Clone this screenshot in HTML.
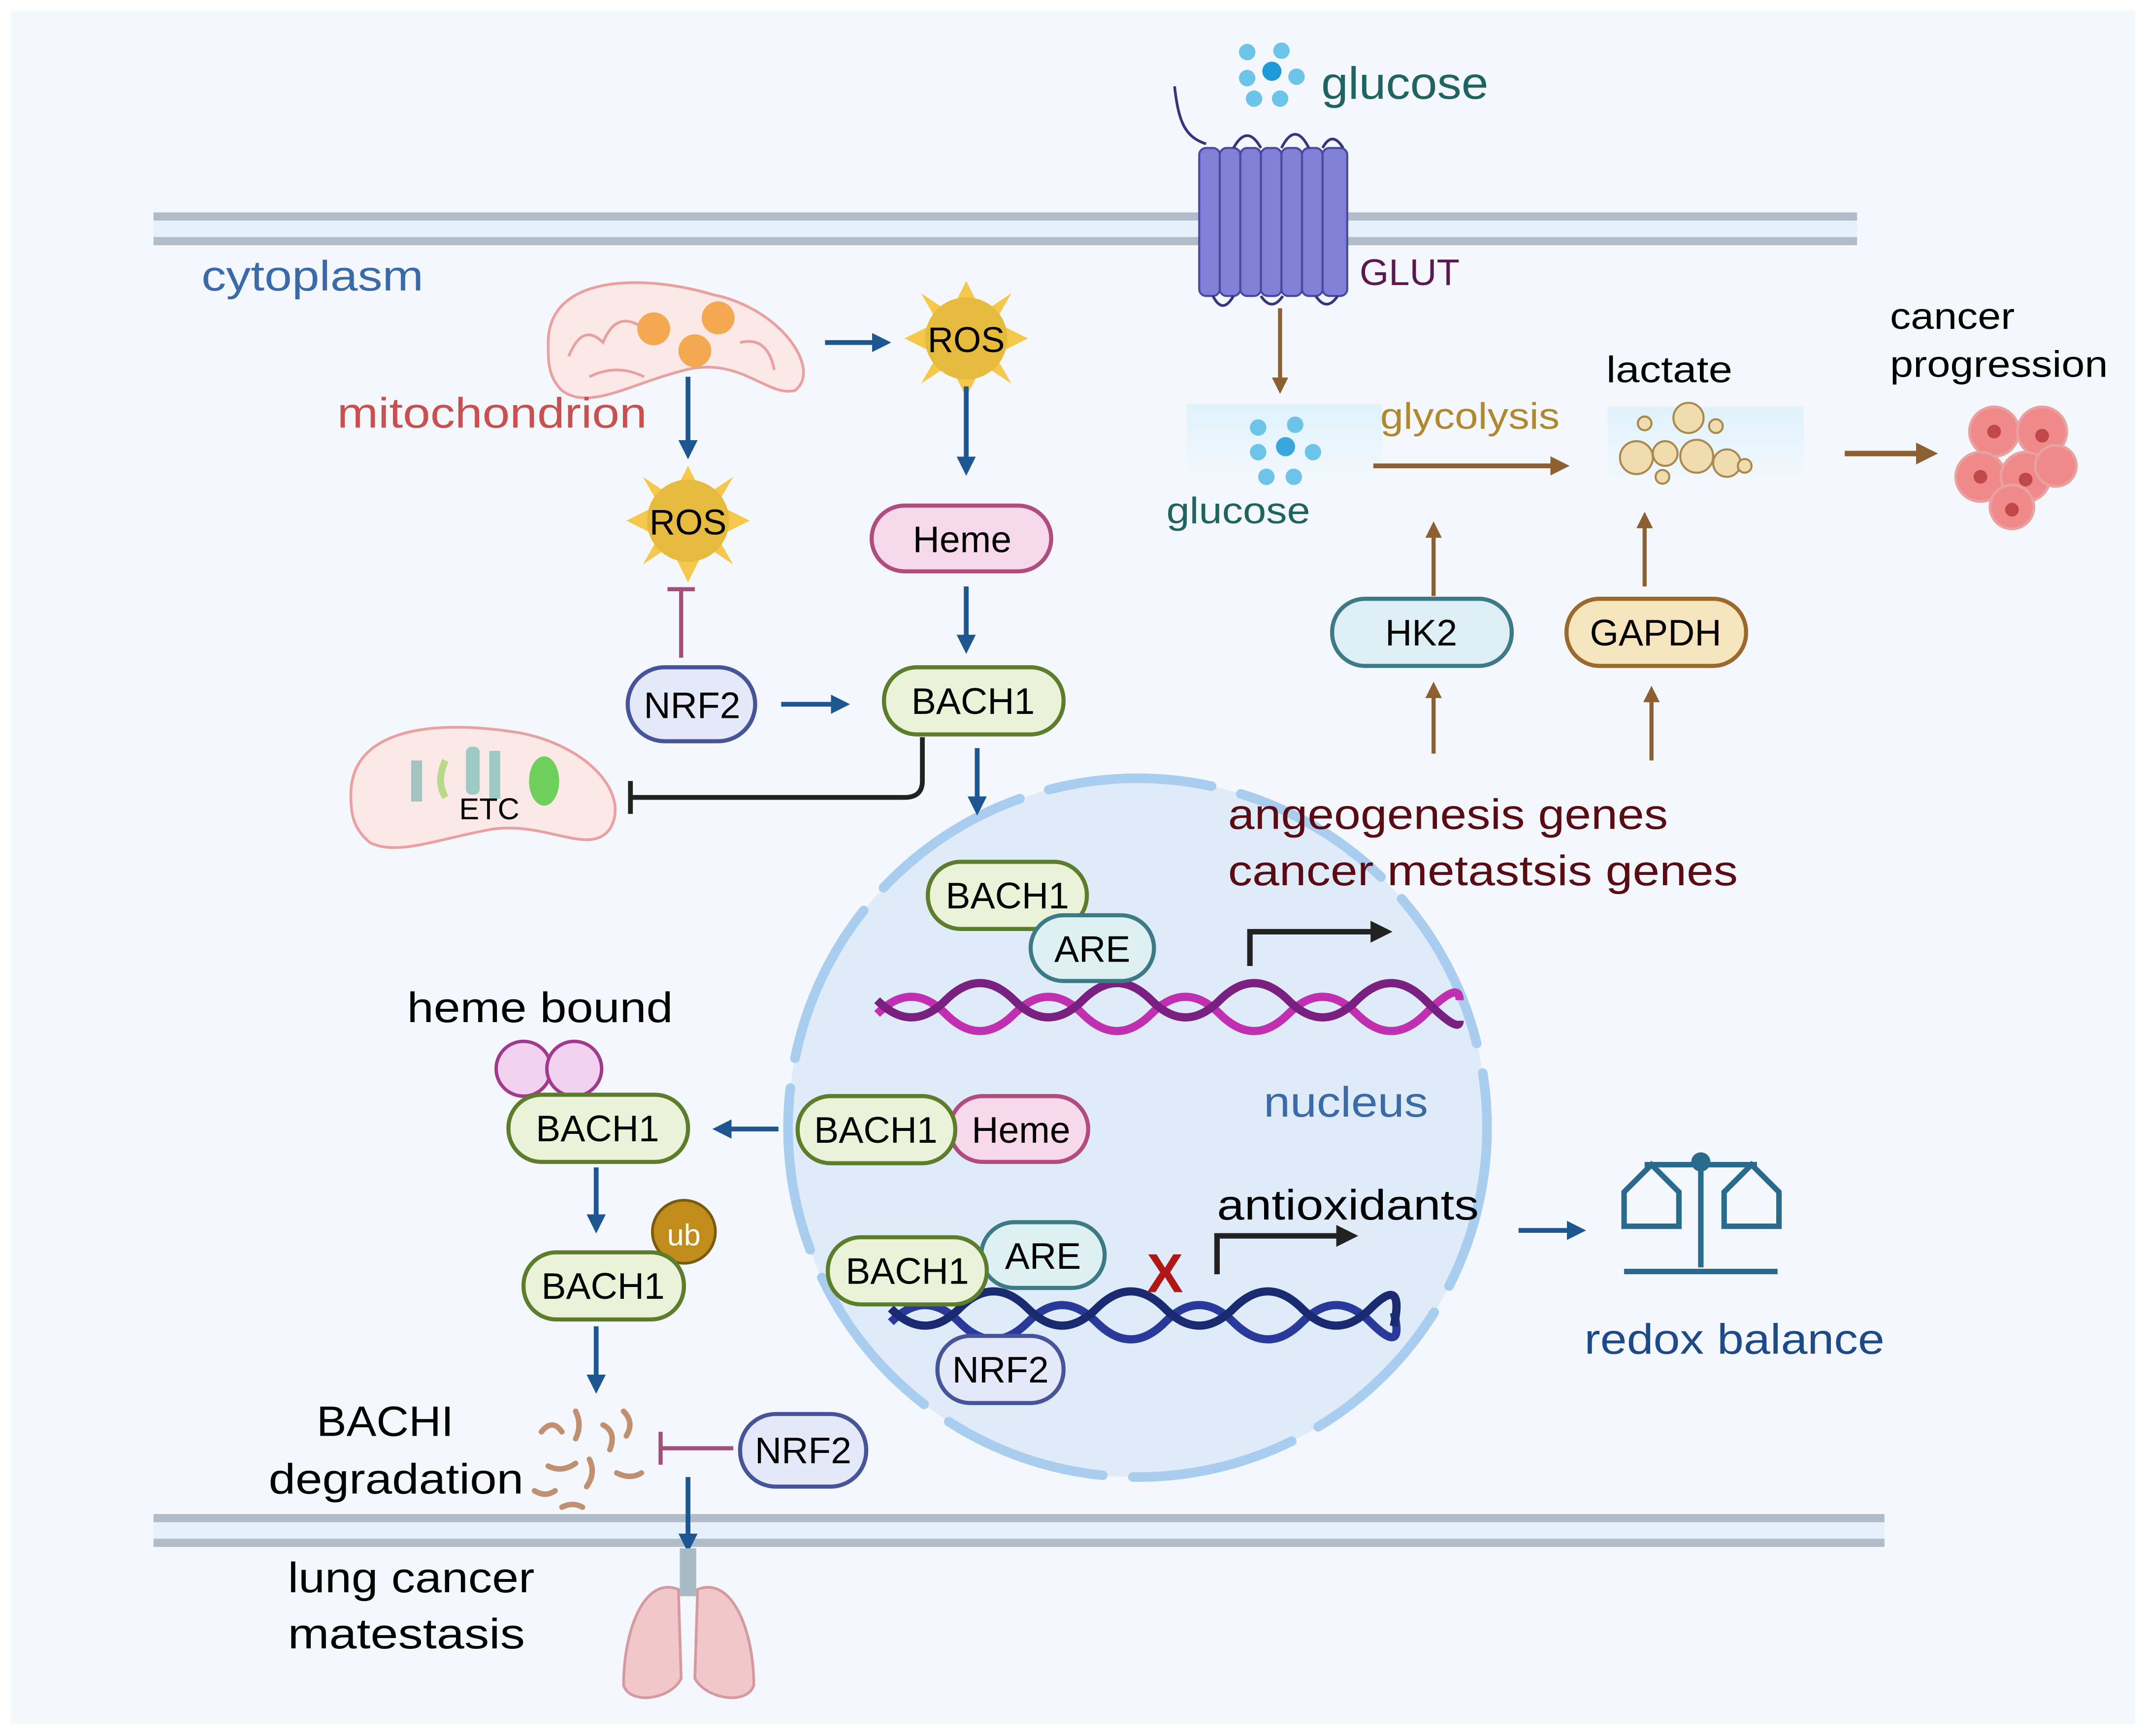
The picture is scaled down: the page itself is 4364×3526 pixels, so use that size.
<!DOCTYPE html>
<html><head><meta charset="utf-8"><style>
html,body{margin:0;padding:0;background:#fff}
svg{display:block}
text{font-family:"Liberation Sans",sans-serif}
</style></head><body>
<svg width="4364" height="3526" viewBox="0 0 1568 1267" preserveAspectRatio="none" xmlns="http://www.w3.org/2000/svg">
<defs>
<marker id="ab" markerWidth="4" markerHeight="4" refX="2.5" refY="2" orient="auto" markerUnits="strokeWidth"><path d="M0,0 L4,2 L0,4 Z" fill="#1d5690"/></marker>
<marker id="ao" markerWidth="4" markerHeight="4" refX="2.5" refY="2" orient="auto" markerUnits="strokeWidth"><path d="M0,0 L4,2 L0,4 Z" fill="#8c6030"/></marker>
<marker id="ak" markerWidth="4" markerHeight="4" refX="2.5" refY="2" orient="auto" markerUnits="strokeWidth"><path d="M0,0 L4,2 L0,4 Z" fill="#222"/></marker>
<linearGradient id="lg" x1="0" y1="0" x2="0" y2="1"><stop offset="0" stop-color="#dff2fc"/><stop offset="1" stop-color="#f3f8fc"/></linearGradient>
</defs>
<rect x="0" y="0" width="1568" height="1267" fill="#fff"/>
<rect x="8" y="8" width="1550" height="1250" fill="#f4f7fb"/>
<rect x="112" y="160" width="1243" height="15" fill="#e6f0fa"/>
<rect x="112" y="155" width="1243" height="6" fill="#aebdc9"/>
<rect x="112" y="173" width="1243" height="6" fill="#aebdc9"/>
<rect x="112" y="1110" width="1263" height="15" fill="#e6f0fa"/>
<rect x="112" y="1105" width="1263" height="6" fill="#aebdc9"/>
<rect x="112" y="1123" width="1263" height="6" fill="#aebdc9"/>
<circle cx="830" cy="823" r="255" fill="#dfebf8"/>
<circle cx="830" cy="823" r="255" fill="none" stroke="#a8cdee" stroke-width="7" stroke-dasharray="120 22" stroke-linecap="round"/>
<text x="147" y="212" font-size="31" fill="#3a6aa8" textLength="162" lengthAdjust="spacingAndGlyphs">cytoplasm</text>
<path d="M400,250 C400,200 470,200 520,215 C570,225 600,270 580,285 C560,290 540,260 500,270 C460,280 430,300 410,285 C400,275 400,265 400,250Z" fill="#fde8e8" stroke="#e8a0a0" stroke-width="2"/>
<path d="M415,260 q10,-25 25,-10 q10,-25 30,-10 M540,250 q20,-5 25,20 M430,275 q20,-10 40,0" stroke="#e8a0a0" stroke-width="2" fill="none"/>
<circle cx="477" cy="240" r="12" fill="#f4a850"/><circle cx="524" cy="232" r="12" fill="#f4a850"/><circle cx="507" cy="256" r="12" fill="#f4a850"/>
<text x="246" y="312" font-size="31" fill="#c85050" textLength="226" lengthAdjust="spacingAndGlyphs">mitochondrion</text>
<g fill="#f5c74a"><polygon points="705,205 715,225 695,225"/><polygon points="705,290 715,270 695,270"/><polygon points="660,247 680,237 680,257"/><polygon points="750,247 730,237 730,257"/><polygon points="672,214 690,226 683,233"/><polygon points="738,214 720,226 727,233"/><polygon points="672,280 690,268 683,261"/><polygon points="738,280 720,268 727,261"/></g>
<circle cx="705" cy="247" r="30" fill="#e6bb3d"/>
<text x="705" y="257" font-size="26" text-anchor="middle">ROS</text>
<g fill="#f5c74a"><polygon points="502,340 512,360 492,360"/><polygon points="502,425 512,405 492,405"/><polygon points="457,380 477,370 477,390"/><polygon points="547,380 527,370 527,390"/><polygon points="469,348 487,360 480,367"/><polygon points="535,348 517,360 524,367"/><polygon points="469,412 487,400 480,393"/><polygon points="535,412 517,400 524,393"/></g>
<circle cx="502" cy="380" r="30" fill="#e6bb3d"/>
<text x="502" y="390" font-size="26" text-anchor="middle">ROS</text>
<g stroke="#1d5690" stroke-width="3.5" fill="none" marker-end="url(#ab)">
<line x1="602" y1="250" x2="645" y2="250"/>
<line x1="502" y1="275" x2="502" y2="330"/>
<line x1="705" y1="282" x2="705" y2="342"/>
<line x1="705" y1="428" x2="705" y2="472"/>
<line x1="570" y1="514" x2="615" y2="514"/>
<line x1="713" y1="546" x2="713" y2="590"/>
<line x1="568" y1="824" x2="525" y2="824"/>
<line x1="435" y1="852" x2="435" y2="895"/>
<line x1="435" y1="968" x2="435" y2="1012"/>
<line x1="502" y1="1078" x2="502" y2="1128"/>
<line x1="1108" y1="898" x2="1152" y2="898"/>
</g>
<line x1="497" y1="430" x2="497" y2="480" stroke="#a0507a" stroke-width="3"/>
<line x1="487" y1="430" x2="507" y2="430" stroke="#a0507a" stroke-width="3"/>
<path d="M673,538 L673,570 Q673,582 660,582 L460,582" stroke="#222" stroke-width="3.5" fill="none"/>
<line x1="460" y1="570" x2="460" y2="594" stroke="#222" stroke-width="3.5"/>
<line x1="535" y1="1057" x2="482" y2="1057" stroke="#a0507a" stroke-width="3"/>
<line x1="482" y1="1045" x2="482" y2="1069" stroke="#a0507a" stroke-width="3"/>
<rect x="636" y="369" width="131" height="48" rx="24" fill="#f8d9ec" stroke="#b04c80" stroke-width="3"/>
<text x="702" y="403" font-size="27" text-anchor="middle">Heme</text>
<rect x="458" y="487" width="93" height="54" rx="27" fill="#e5e8f8" stroke="#46549a" stroke-width="3"/>
<text x="505" y="524" font-size="27" text-anchor="middle">NRF2</text>
<rect x="645" y="487" width="131" height="49" rx="24" fill="#eaf3d8" stroke="#5c7e2c" stroke-width="3"/>
<text x="710" y="521" font-size="27" text-anchor="middle">BACH1</text>
<path d="M256,580 C256,530 320,525 380,535 C430,545 460,580 445,605 C430,625 400,600 360,605 C320,612 290,625 270,615 C258,605 256,595 256,580Z" fill="#fde8e8" stroke="#e8a0a0" stroke-width="2"/>
<rect x="300" y="555" width="8" height="30" fill="#a5c4c0"/><path d="M325,555 Q318,570 325,582" stroke="#b8d88a" stroke-width="5" fill="none"/>
<rect x="340" y="545" width="10" height="35" rx="4" fill="#9ccac4"/><rect x="357" y="548" width="8" height="35" fill="#9ccac4"/>
<ellipse cx="397" cy="570" rx="11" ry="18" fill="#6ed05a"/>
<text x="357" y="598" font-size="22" text-anchor="middle">ETC</text>
<g fill="#8080d8" stroke="#4a48a0" stroke-width="1.5">
<rect x="875" y="108" width="15" height="108" rx="5"/><rect x="890" y="108" width="15" height="108" rx="5"/><rect x="905" y="108" width="15" height="108" rx="5"/><rect x="920" y="108" width="15" height="108" rx="5"/><rect x="935" y="108" width="15" height="108" rx="5"/><rect x="950" y="108" width="15" height="108" rx="5"/><rect x="965" y="108" width="18" height="108" rx="5"/>
</g>
<path d="M857,63 C860,90 865,100 880,105 M900,108 Q910,90 920,108 M935,108 Q945,88 955,108 M965,108 Q972,95 980,108 M885,216 Q892,230 900,216 M920,216 Q928,228 936,216 M960,216 Q968,228 976,216" stroke="#3a3480" stroke-width="2" fill="none"/>
<text x="992" y="208" font-size="27" fill="#5c1850" textLength="73" lengthAdjust="spacingAndGlyphs">GLUT</text>
<g fill="#6cc4e8"><circle cx="910" cy="38" r="6"/><circle cx="935" cy="37" r="6"/><circle cx="910" cy="57" r="6"/><circle cx="928" cy="52" r="7" fill="#1e9ad6"/><circle cx="946" cy="56" r="6"/><circle cx="915" cy="72" r="6"/><circle cx="934" cy="72" r="6"/></g>
<text x="964" y="72" font-size="33" fill="#1e6460" textLength="122" lengthAdjust="spacingAndGlyphs">glucose</text>
<line x1="934" y1="225" x2="934" y2="283" stroke="#8c6030" stroke-width="3" marker-end="url(#ao)"/>
<rect x="866" y="295" width="142" height="55" fill="url(#lg)"/>
<g fill="#6cc4e8"><circle cx="918" cy="312" r="6"/><circle cx="945" cy="310" r="6"/><circle cx="918" cy="330" r="6"/><circle cx="938" cy="326" r="7" fill="#3aa8dc"/><circle cx="958" cy="330" r="6"/><circle cx="924" cy="348" r="6"/><circle cx="944" cy="348" r="6"/></g>
<text x="851" y="382" font-size="27" fill="#1e6460" textLength="105" lengthAdjust="spacingAndGlyphs">glucose</text>
<text x="1007" y="313" font-size="27" fill="#b08830" textLength="131" lengthAdjust="spacingAndGlyphs">glycolysis</text>
<line x1="1002" y1="340" x2="1140" y2="340" stroke="#8c6030" stroke-width="3.5" marker-end="url(#ao)"/>
<rect x="1173" y="297" width="143" height="55" fill="url(#lg)"/>
<g fill="#f0dcae" stroke="#a88a50" stroke-width="1.5"><circle cx="1200" cy="309" r="5"/><circle cx="1232" cy="305" r="11"/><circle cx="1252" cy="311" r="5"/><circle cx="1194" cy="334" r="12"/><circle cx="1215" cy="331" r="9"/><circle cx="1238" cy="333" r="12"/><circle cx="1260" cy="338" r="10"/><circle cx="1273" cy="340" r="5"/><circle cx="1213" cy="348" r="5"/></g>
<text x="1172" y="279" font-size="27" textLength="92" lengthAdjust="spacingAndGlyphs">lactate</text>
<text x="1379" y="240" font-size="27" textLength="91" lengthAdjust="spacingAndGlyphs">cancer</text>
<text x="1379" y="275" font-size="27" textLength="159" lengthAdjust="spacingAndGlyphs">progression</text>
<line x1="1346" y1="331" x2="1408" y2="331" stroke="#8c6030" stroke-width="4" marker-end="url(#ao)"/>
<g fill="#f08a8a" stroke="#e9a0a0" stroke-width="2"><circle cx="1455" cy="315" r="18"/><circle cx="1490" cy="315" r="18"/><circle cx="1445" cy="348" r="18"/><circle cx="1478" cy="348" r="18"/><circle cx="1500" cy="340" r="15"/><circle cx="1468" cy="370" r="16"/></g>
<g fill="#c04848"><circle cx="1455" cy="315" r="5"/><circle cx="1490" cy="318" r="5"/><circle cx="1445" cy="348" r="5"/><circle cx="1478" cy="350" r="5"/><circle cx="1468" cy="372" r="5"/></g>
<g stroke="#8c6030" stroke-width="3" marker-end="url(#ao)">
<line x1="1046" y1="435" x2="1046" y2="385"/>
<line x1="1046" y1="550" x2="1046" y2="502"/>
<line x1="1200" y1="428" x2="1200" y2="378"/>
<line x1="1205" y1="555" x2="1205" y2="505"/>
</g>
<rect x="972" y="437" width="131" height="49" rx="24" fill="#ddeff4" stroke="#3c7a86" stroke-width="3"/>
<text x="1037" y="471" font-size="27" text-anchor="middle">HK2</text>
<rect x="1143" y="437" width="131" height="49" rx="24" fill="#f5e4bc" stroke="#9a6a2c" stroke-width="3"/>
<text x="1208" y="471" font-size="27" text-anchor="middle">GAPDH</text>
<text x="896" y="605" font-size="31" fill="#5a0c14" textLength="321" lengthAdjust="spacingAndGlyphs">angeogenesis genes</text>
<text x="896" y="646" font-size="31" fill="#5a0c14" textLength="372" lengthAdjust="spacingAndGlyphs">cancer metastsis genes</text>
<path d="M640,740 Q665,715 690,740 T740,740 T790,740 T840,740 T890,740 T940,740 T990,740 T1040,740 T1065,730" stroke="#c030b0" stroke-width="6" fill="none"/>
<path d="M640,730 Q665,755 690,730 T740,730 T790,730 T840,730 T890,730 T940,730 T990,730 T1040,730 T1065,745" stroke="#7a2080" stroke-width="6" fill="none"/>
<path d="M912,705 L912,680 L1010,680" stroke="#222" stroke-width="4" fill="none" marker-end="url(#ak)"/>
<rect x="677" y="629" width="116" height="49" rx="24" fill="#eaf3d8" stroke="#5c7e2c" stroke-width="3"/>
<text x="735" y="663" font-size="27" text-anchor="middle">BACH1</text>
<rect x="752" y="668" width="90" height="48" rx="24" fill="#ddf0f2" stroke="#3c7a86" stroke-width="3"/>
<text x="797" y="702" font-size="27" text-anchor="middle">ARE</text>
<text x="922" y="815" font-size="31" fill="#3a6aa8" textLength="120" lengthAdjust="spacingAndGlyphs">nucleus</text>
<text x="297" y="746" font-size="31" textLength="194" lengthAdjust="spacingAndGlyphs">heme bound</text>
<circle cx="382" cy="780" r="20" fill="#f2d0f0" stroke="#a03a8c" stroke-width="2.5"/>
<circle cx="419" cy="780" r="20" fill="#f2d0f0" stroke="#a03a8c" stroke-width="2.5"/>
<rect x="371" y="799" width="131" height="49" rx="24" fill="#eaf3d8" stroke="#5c7e2c" stroke-width="3"/>
<text x="436" y="833" font-size="27" text-anchor="middle">BACH1</text>
<rect x="693" y="800" width="101" height="48" rx="24" fill="#f8d9ec" stroke="#b04c80" stroke-width="3"/>
<text x="745" y="834" font-size="27" text-anchor="middle">Heme</text>
<rect x="582" y="800" width="115" height="49" rx="24" fill="#eaf3d8" stroke="#5c7e2c" stroke-width="3"/>
<text x="639" y="834" font-size="27" text-anchor="middle">BACH1</text>
<circle cx="499" cy="899" r="23" fill="#c08c1c" stroke="#7a5a10" stroke-width="2"/>
<text x="499" y="909" font-size="22" fill="#fff" text-anchor="middle">ub</text>
<rect x="382" y="914" width="117" height="49" rx="24" fill="#eaf3d8" stroke="#5c7e2c" stroke-width="3"/>
<text x="440" y="948" font-size="27" text-anchor="middle">BACH1</text>
<text x="231" y="1048" font-size="31" textLength="100" lengthAdjust="spacingAndGlyphs">BACHI</text>
<text x="196" y="1090" font-size="31" textLength="186" lengthAdjust="spacingAndGlyphs">degradation</text>
<g stroke="#c09070" stroke-width="4" fill="none" stroke-linecap="round"><path d="M395,1045 q8,-10 15,0"/><path d="M420,1030 q5,10 0,20"/><path d="M440,1040 q10,5 5,18"/><path d="M455,1030 q8,8 2,18"/><path d="M400,1070 q10,5 20,-2"/><path d="M430,1065 q5,10 -2,20"/><path d="M450,1075 q10,5 18,0"/><path d="M390,1088 q8,5 15,0"/><path d="M410,1100 q8,-4 15,0"/></g>
<rect x="540" y="1032" width="92" height="53" rx="26" fill="#e5e8f8" stroke="#46549a" stroke-width="3"/>
<text x="586" y="1068" font-size="27" text-anchor="middle">NRF2</text>
<path d="M650,965 Q675,940 700,965 T750,965 T800,965 T850,965 T900,965 T950,965 T1000,965 T1017,958" stroke="#2a3a9a" stroke-width="6" fill="none"/>
<path d="M650,955 Q675,980 700,955 T750,955 T800,955 T850,955 T900,955 T950,955 T1000,955 T1017,968" stroke="#1a2a70" stroke-width="6" fill="none"/>
<rect x="716" y="892" width="90" height="48" rx="24" fill="#ddf0f2" stroke="#3c7a86" stroke-width="3"/>
<text x="761" y="926" font-size="27" text-anchor="middle">ARE</text>
<rect x="604" y="903" width="116" height="49" rx="24" fill="#eaf3d8" stroke="#5c7e2c" stroke-width="3"/>
<text x="662" y="937" font-size="27" text-anchor="middle">BACH1</text>
<rect x="684" y="975" width="92" height="49" rx="24" fill="#e5e8f8" stroke="#46549a" stroke-width="3"/>
<text x="730" y="1009" font-size="27" text-anchor="middle">NRF2</text>
<text x="850" y="943" font-size="40" fill="#b01818" font-weight="bold" text-anchor="middle">X</text>
<path d="M888,930 L888,902 L985,902" stroke="#222" stroke-width="4" fill="none" marker-end="url(#ak)"/>
<text x="888" y="890" font-size="31" textLength="191" lengthAdjust="spacingAndGlyphs">antioxidants</text>
<g stroke="#2a6a8c" stroke-width="4" fill="none"><line x1="1241" y1="848" x2="1241" y2="925"/><line x1="1185" y1="928" x2="1297" y2="928"/><line x1="1200" y1="850" x2="1282" y2="850"/><path d="M1185,870 L1205,850 L1225,870 L1225,895 L1185,895 Z"/><path d="M1258,870 L1278,850 L1298,870 L1298,895 L1258,895 Z"/></g>
<circle cx="1241" cy="848" r="7" fill="#2a6a8c"/>
<text x="1156" y="988" font-size="31" fill="#1e4a8a" textLength="219" lengthAdjust="spacingAndGlyphs">redox balance</text>
<rect x="496" y="1130" width="12" height="35" fill="#a8bcc8"/>
<path d="M495,1160 C470,1150 455,1190 455,1230 C460,1245 490,1240 497,1225 Z" fill="#f0c8cc" stroke="#d49aa0" stroke-width="2"/>
<path d="M509,1160 C534,1150 550,1190 550,1230 C545,1245 515,1240 507,1225 Z" fill="#f0c8cc" stroke="#d49aa0" stroke-width="2"/>
<text x="210" y="1162" font-size="31" textLength="180" lengthAdjust="spacingAndGlyphs">lung cancer</text>
<text x="210" y="1203" font-size="31" textLength="173" lengthAdjust="spacingAndGlyphs">matestasis</text>
</svg>
</body></html>
